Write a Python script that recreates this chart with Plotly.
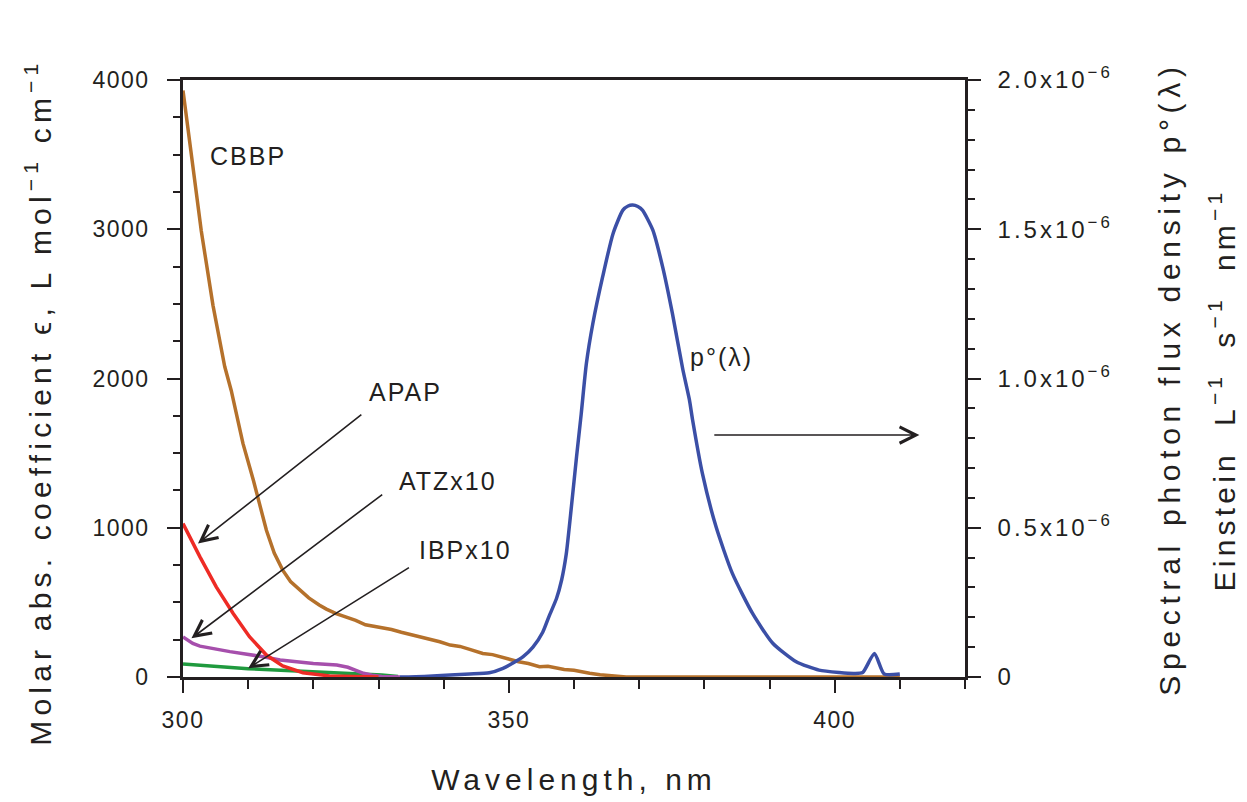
import plotly.graph_objects as go

# ---------------- data ----------------
wl_cbbp = [300, 301.3, 302.8, 304.6, 306.4, 307.4, 308.3, 309.2, 310.8, 312.8, 314, 315.3,
           316.5, 317.9, 319.3, 320.9, 322, 323.5, 325, 326.5, 328, 329.5, 330.7, 332,
           333.5, 335.3, 337, 338.5, 339.4, 341, 342.5, 344, 346, 347.5, 349, 350.5,
           351.5, 353, 354.7, 356, 357.3, 358.5, 360, 361, 362.4, 364, 365.5, 366.5,
           368, 380, 390, 400, 410]
eps_cbbp = [3930, 3490, 2990, 2490, 2080, 1920, 1740, 1565, 1318, 983, 830, 716,
            640, 582, 530, 482, 455, 425, 403, 380, 350, 338, 330, 318,
            300, 281, 262, 245, 236, 214, 205, 185, 158, 150, 130, 110,
            102, 90, 69, 72, 62, 50, 45, 35, 25, 15, 8, 3,
            0, 0, 0, 0, 0]

wl_apap = [300, 302.6, 305.1, 307.7, 310.2, 312.8, 315.3, 318.4, 322.5, 326, 330]
eps_apap = [1028, 805, 604, 426, 270, 147, 74, 29, 7, 2, 0]

wl_atz = [300, 301.5, 302.6, 307.2, 312.3, 314.9, 320, 323.6, 325.3, 326.5, 327.7, 329, 330.5, 333.3]
eps_atz_x10 = [268, 225, 207, 170, 136, 114, 91, 80, 65, 45, 25, 12, 3, 0]

wl_ibp = [300, 305, 310, 315, 320, 325, 330.5, 333]
eps_ibp_x10 = [87, 72, 55, 46, 36, 26, 13, 4]

wl_lamp = [333.3, 337, 341, 344, 347, 349.1, 350.5, 352.2, 353.7, 355.2, 356.2, 357.3,
           358.1, 358.8, 359.6, 360.4, 361.1, 361.9, 362.9, 364.4, 366.0, 367.5, 368.3,
           369.0, 369.8, 370.5, 372.1, 373.6, 375.1, 376.7, 377.7, 378.2, 379.7, 381.8,
           384.3, 387.4, 390.5, 394.1, 397.6, 400.7, 403, 404.3, 406.1, 407.6, 410]
p_lamp = [0, 0.002e-6, 0.007e-6, 0.010e-6, 0.014e-6, 0.029e-6, 0.045e-6, 0.068e-6, 0.100e-6,
          0.150e-6, 0.205e-6, 0.262e-6, 0.325e-6, 0.410e-6, 0.570e-6, 0.740e-6, 0.880e-6,
          1.050e-6, 1.185e-6, 1.341e-6, 1.486e-6, 1.564e-6, 1.578e-6, 1.581e-6, 1.576e-6,
          1.564e-6, 1.497e-6, 1.374e-6, 1.218e-6, 1.030e-6, 0.930e-6, 0.861e-6, 0.682e-6,
          0.503e-6, 0.347e-6, 0.213e-6, 0.113e-6, 0.051e-6, 0.023e-6, 0.015e-6, 0.012e-6,
          0.015e-6, 0.079e-6, 0.010e-6, 0.010e-6]

x_ticks = [300, 350, 400]
y_ticks = [0, 1000, 2000, 3000, 4000]
y2_ticks = [0, 0.5e-6, 1.0e-6, 1.5e-6, 2.0e-6]
y2_ticktext = ["0", "0.5x10<sup>−6</sup>", "1.0x10<sup>−6</sup>",
               "1.5x10<sup>−6</sup>", "2.0x10<sup>−6</sup>"]

# ---------------- styling ----------------
FONT = "Liberation Sans, Arial, Helvetica, sans-serif"
INK = "#231f20"
C_BLUE = "#3b4fa6"
C_BROWN = "#b5712b"
C_RED = "#ee2b25"
C_PURPLE = "#a64fac"
C_GREEN = "#1f9a3e"
LW = 3.5

W, H = 1247, 802
ML, MR, MT, MB = 183, 282, 80, 125
PW, PH = W - ML - MR, H - MT - MB

fig = go.Figure()
fig.add_trace(go.Scatter(x=wl_lamp, y=p_lamp, mode="lines", yaxis="y2",
                         line=dict(color=C_BLUE, width=LW, shape="spline", smoothing=0.6),
                         name="p°(λ)"))
fig.add_trace(go.Scatter(x=wl_ibp, y=eps_ibp_x10, mode="lines",
                         line=dict(color=C_GREEN, width=LW), name="IBPx10"))
fig.add_trace(go.Scatter(x=wl_atz, y=eps_atz_x10, mode="lines",
                         line=dict(color=C_PURPLE, width=LW), name="ATZx10"))
fig.add_trace(go.Scatter(x=wl_cbbp, y=eps_cbbp, mode="lines",
                         line=dict(color=C_BROWN, width=LW), name="CBBP"))
fig.add_trace(go.Scatter(x=wl_apap, y=eps_apap, mode="lines",
                         line=dict(color=C_RED, width=LW), name="APAP"))

tickfont = dict(family=FONT, size=23, color=INK)
tickfont2 = dict(family=FONT, size=24, color=INK)
titlefont = dict(family=FONT, size=30, color=INK)

fig.update_layout(
    width=W, height=H,
    margin=dict(l=ML, r=MR, t=MT, b=MB),
    paper_bgcolor="white", plot_bgcolor="white",
    showlegend=False,
    font=dict(family=FONT, color=INK),
    xaxis=dict(
        range=[300, 420], tickmode="array", tickvals=x_ticks,
        ticks="outside", ticklen=13, tickwidth=2, tickcolor=INK,
        minor=dict(dtick=10, tick0=300, ticks="outside", ticklen=9, tickwidth=2, tickcolor=INK),
        showline=True, linewidth=2.5, linecolor=INK, mirror=True,
        showgrid=False, zeroline=False, tickfont=tickfont,
        ticklabelstandoff=8,
        title=dict(text="Wavelength, nm", font=titlefont, standoff=37),
    ),
    yaxis=dict(
        range=[0, 4000], tickmode="array", tickvals=y_ticks,
        ticks="outside", ticklen=13, tickwidth=2, tickcolor=INK,
        minor=dict(dtick=250, tick0=0, ticks="outside", ticklen=7, tickwidth=2, tickcolor=INK),
        showline=True, linewidth=2.5, linecolor=INK,
        showgrid=False, zeroline=False, tickfont=tickfont,
        ticklabelstandoff=13,
    ),
    yaxis2=dict(
        overlaying="y", side="right",
        range=[0, 2.0e-6], tickmode="array", tickvals=y2_ticks, ticktext=y2_ticktext,
        ticks="outside", ticklen=13, tickwidth=2, tickcolor=INK,
        minor=dict(dtick=0.1e-6, tick0=0, ticks="outside", ticklen=7, tickwidth=2, tickcolor=INK),
        showline=True, linewidth=2.5, linecolor=INK,
        showgrid=False, zeroline=False, tickfont=tickfont2,
        ticklabelstandoff=12,
        title=dict(text="Spectral photon flux density p°(λ)", font=titlefont, standoff=72),
    ),
)

labelfont = dict(family=FONT, size=25, color=INK)
labels = [
    ("CBBP", 309.9, 3490),
    ("APAP", 334.2, 1909),
    ("ATZx10", 340.6, 1313),
    ("IBPx10", 343.3, 851),
    ("p°(λ)", 382.6, 2143),
]
for txt, lx, ly in labels:
    fig.add_annotation(x=lx, y=ly, xref="x", yref="y", text=txt, showarrow=False,
                       font=labelfont, xanchor="center", yanchor="middle")

arrows = [  # (head x, head y, tail x, tail y)
    (302.3, 895, 327.6, 1766),
    (301.3, 259, 330.8, 1230),
    (310.0, 58, 334.9, 739),
    (413.0, 1621, 381.3, 1621),
]
for hx, hy, tx, ty in arrows:
    fig.add_annotation(x=hx, y=hy, xref="x", yref="y", ax=tx, ay=ty, axref="x", ayref="y",
                       text="", showarrow=True, arrowhead=5, arrowsize=2.0,
                       arrowwidth=1.6, arrowcolor=INK, standoff=0)

# left axis title (placed as in the reference)
fig.add_annotation(x=(38 - ML) / PW, y=(MT + PH - 402) / PH, xref="paper", yref="paper",
                   xanchor="center", yanchor="middle",
                   text="Molar abs. coefficient ϵ, L mol<sup>−1</sup> cm<sup>−1</sup>",
                   showarrow=False, textangle=-90, font=titlefont)
# second line of the right-hand axis title
fig.add_annotation(x=(1222 - ML) / PW, y=(MT + PH - 390) / PH, xref="paper", yref="paper",
                   xanchor="center", yanchor="middle",
                   text="Einstein\u00a0 L<sup>−1</sup>\u00a0 s<sup>−1</sup>\u00a0 nm<sup>−1</sup>",
                   showarrow=False, textangle=-90, font=titlefont)

post = """
document.body.style.margin = '0';
var gd = document.getElementById('{plot_id}');
function sp(sel, v){ gd.querySelectorAll(sel).forEach(function(t){ t.style.letterSpacing = v; }); }
sp('.xtitle', '5px');
sp('.y2title', '5.7px');
sp('.xtick text, .ytick text', '1.5px');
sp('.y2tick text', '3px');
gd.querySelectorAll('.annotation-text').forEach(function(t){
  var s = t.textContent || '';
  if (s.indexOf('Molar') === 0) { t.style.letterSpacing = '5.2px'; }
  else if (s.indexOf('Einstein') === 0) { t.style.letterSpacing = '4.2px'; }
  else { t.style.letterSpacing = '2px'; }
});
"""

fig.write_html("out.html", post_script=post, config={"displayModeBar": False})
